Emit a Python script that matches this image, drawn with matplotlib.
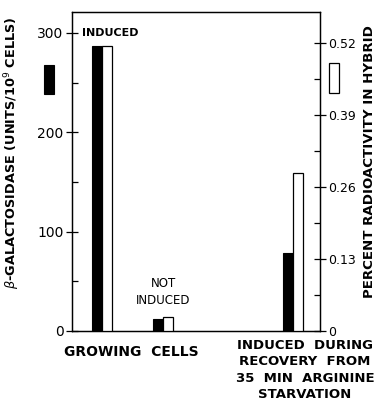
import matplotlib
matplotlib.use("Agg")
import matplotlib.pyplot as plt
from matplotlib.patches import Rectangle

# Data
groups = ["GROWING CELLS induced", "GROWING CELLS not induced", "Induced during recovery"]
galactosidase = [287, 12, 78]          # units / 10^9 cells (left axis)
radioactivity = [0.515, 0.025, 0.285]  # percent radioactivity in hybrid (right axis)
left_ticks = [0, 100, 200, 300]
right_ticks = [0, 0.13, 0.26, 0.39, 0.52]

# layout
centers = [30, 91, 221]
bw_black = 10.5
bw_white = 9.5

fig = plt.figure(figsize=(3.84, 4.03), dpi=100)
ax = fig.add_axes([72/384, 1-331/403, 248/384, 319/403])
ax2 = ax.twinx()

ax.bar([c - bw_black/2 for c in centers], galactosidase, width=bw_black,
       color="black", edgecolor="black", linewidth=0.8, zorder=3)
ax2.bar([c + bw_white/2 for c in centers], radioactivity, width=bw_white,
        facecolor="white", edgecolor="black", linewidth=0.9, zorder=3)

ax.set_xlim(0, 248)
ax.set_ylim(0, 321)
ax2.set_ylim(0, 0.576)
ax.set_xticks([])

ax.set_yticks(left_ticks)
ax.set_yticklabels([str(t) for t in left_ticks])
ax.set_yticks([50, 150, 250], minor=True)
ax2.set_yticks(right_ticks)
ax2.set_yticklabels(["0", "0.13", "0.26", "0.39", "0.52"])
ax2.set_yticks([0.065, 0.195, 0.325, 0.455], minor=True)

for a in (ax, ax2):
    for s in a.spines.values():
        s.set_linewidth(0.9)
ax.tick_params(axis="y", which="major", direction="inout", length=8, width=0.9,
               labelsize=10, pad=2, colors="black")
ax.tick_params(axis="y", which="minor", direction="in", length=4, width=0.9)
ax2.tick_params(axis="y", which="major", direction="inout", length=8, width=0.9,
                labelsize=9, pad=2)
ax2.tick_params(axis="y", which="minor", direction="in", length=4, width=0.9)

ax.set_ylabel(r"$\beta$-GALACTOSIDASE (UNITS/10$^{9}$ CELLS)", fontsize=9.3,
              fontweight="bold", labelpad=6)
ax.yaxis.set_label_coords(-0.20, 0.56)
ax2.set_ylabel("PERCENT RADIOACTIVITY IN HYBRID", fontsize=9.6,
               fontweight="bold", rotation=90, labelpad=6)
ax2.yaxis.set_label_coords(1.175, 0.53)

# legend swatches
fig.patches.append(Rectangle((44/384, 1-94/403), 10/384, 29/403, transform=fig.transFigure,
                             facecolor="black", edgecolor="black", lw=0.8))
fig.patches.append(Rectangle((329/384, 1-93/403), 10/384, 30/403, transform=fig.transFigure,
                             facecolor="white", edgecolor="black", lw=0.9))

# annotations
ax.text(10, 300, "INDUCED", fontsize=8, fontweight="bold", va="center", ha="left")
ax.text(91, 48, "NOT", fontsize=8.5, ha="center", va="center")
ax.text(91, 31, "INDUCED", fontsize=8.5, ha="center", va="center")

fig.text(131/384, 1-352/403, "GROWING  CELLS", fontsize=10, fontweight="bold",
         ha="center", va="center")
fig.text(305/384, 1-370/403, "INDUCED  DURING\nRECOVERY  FROM\n35  MIN  ARGININE\nSTARVATION",
         fontsize=9.5, fontweight="bold", ha="center", va="center", linespacing=1.35)

fig.savefig("out.png", dpi=100)
